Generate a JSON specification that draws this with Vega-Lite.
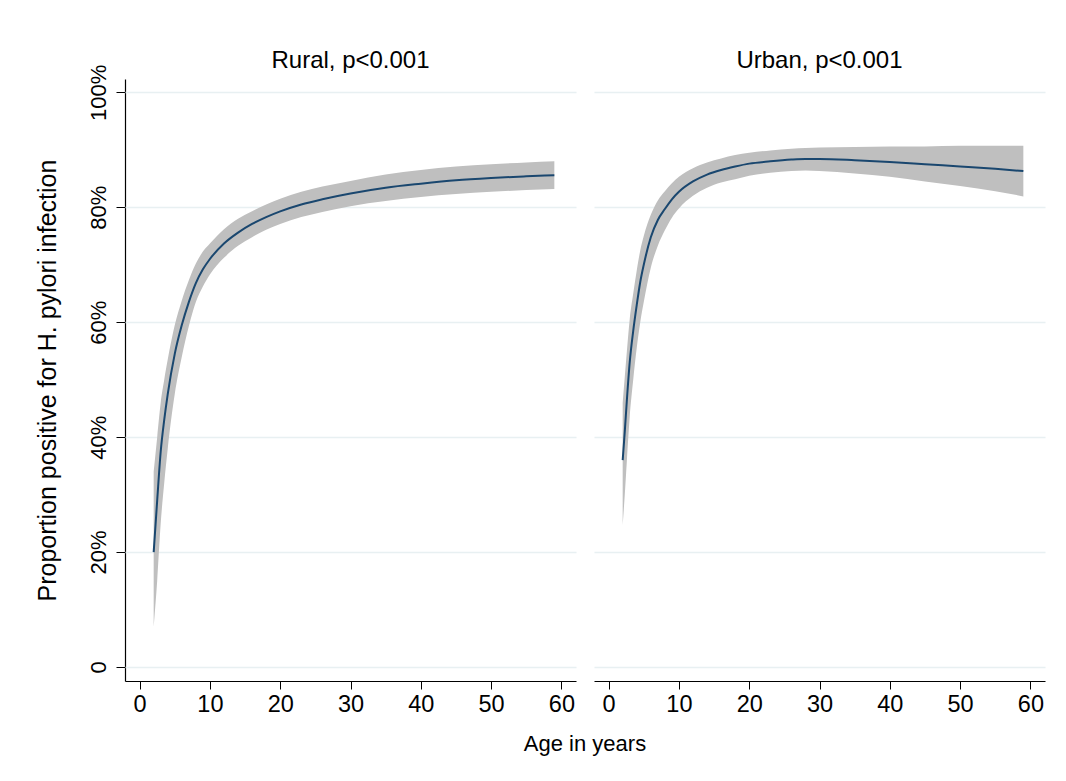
{
  "$schema": "https://vega.github.io/schema/vega-lite/v6.json",
  "padding": {"left": 34, "top": 49, "right": 10, "bottom": 10},
  "background": "white",
  "config": {
    "font": "Liberation Sans",
    "view": {"stroke": null},
    "axis": {"labelFont": "Liberation Sans", "titleFont": "Liberation Sans", "labelColor": "#000", "titleColor": "#000", "domainColor": "#000", "tickColor": "#000", "gridColor": "#e8f0f2", "gridWidth": 1.5}
  },
  "data": {"values": [
    {"panel": "Rural, p<0.001", "age": 2, "est": 20.0, "lo": 7, "hi": 34},
    {"panel": "Rural, p<0.001", "age": 2.5, "est": 29, "lo": 15, "hi": 40},
    {"panel": "Rural, p<0.001", "age": 3, "est": 37.5, "lo": 25, "hi": 46},
    {"panel": "Rural, p<0.001", "age": 3.5, "est": 43, "lo": 32, "hi": 50},
    {"panel": "Rural, p<0.001", "age": 4, "est": 47.5, "lo": 38, "hi": 53.5},
    {"panel": "Rural, p<0.001", "age": 5, "est": 54.5, "lo": 47.5, "hi": 59.5},
    {"panel": "Rural, p<0.001", "age": 6, "est": 59.5, "lo": 54, "hi": 63.8},
    {"panel": "Rural, p<0.001", "age": 7, "est": 63.5, "lo": 59.3, "hi": 67.3},
    {"panel": "Rural, p<0.001", "age": 8, "est": 66.8, "lo": 63.5, "hi": 70.2},
    {"panel": "Rural, p<0.001", "age": 9, "est": 69.2, "lo": 66.2, "hi": 72.3},
    {"panel": "Rural, p<0.001", "age": 10, "est": 71.0, "lo": 68.3, "hi": 73.7},
    {"panel": "Rural, p<0.001", "age": 12, "est": 73.7, "lo": 71.2, "hi": 76.2},
    {"panel": "Rural, p<0.001", "age": 14, "est": 75.6, "lo": 73.3, "hi": 78.0},
    {"panel": "Rural, p<0.001", "age": 16, "est": 77.1, "lo": 74.8, "hi": 79.3},
    {"panel": "Rural, p<0.001", "age": 18, "est": 78.3, "lo": 76.1, "hi": 80.5},
    {"panel": "Rural, p<0.001", "age": 20, "est": 79.3, "lo": 77.1, "hi": 81.5},
    {"panel": "Rural, p<0.001", "age": 23, "est": 80.5, "lo": 78.3, "hi": 82.7},
    {"panel": "Rural, p<0.001", "age": 26, "est": 81.4, "lo": 79.2, "hi": 83.6},
    {"panel": "Rural, p<0.001", "age": 30, "est": 82.4, "lo": 80.2, "hi": 84.6},
    {"panel": "Rural, p<0.001", "age": 35, "est": 83.4, "lo": 81.1, "hi": 85.7},
    {"panel": "Rural, p<0.001", "age": 40, "est": 84.1, "lo": 81.8, "hi": 86.5},
    {"panel": "Rural, p<0.001", "age": 45, "est": 84.7, "lo": 82.3, "hi": 87.1},
    {"panel": "Rural, p<0.001", "age": 50, "est": 85.1, "lo": 82.7, "hi": 87.5},
    {"panel": "Rural, p<0.001", "age": 55, "est": 85.4, "lo": 83.0, "hi": 87.8},
    {"panel": "Rural, p<0.001", "age": 59, "est": 85.6, "lo": 83.2, "hi": 88.0},
    {"panel": "Urban, p<0.001", "age": 2, "est": 36, "lo": 24.7, "hi": 46},
    {"panel": "Urban, p<0.001", "age": 2.3, "est": 41, "lo": 30, "hi": 50.5},
    {"panel": "Urban, p<0.001", "age": 2.6, "est": 46.5, "lo": 36, "hi": 55},
    {"panel": "Urban, p<0.001", "age": 3, "est": 53, "lo": 43.5, "hi": 60.5},
    {"panel": "Urban, p<0.001", "age": 3.5, "est": 58.5, "lo": 50, "hi": 65},
    {"panel": "Urban, p<0.001", "age": 4, "est": 63, "lo": 55.5, "hi": 69},
    {"panel": "Urban, p<0.001", "age": 4.5, "est": 67, "lo": 60, "hi": 72.5},
    {"panel": "Urban, p<0.001", "age": 5, "est": 70, "lo": 63.5, "hi": 75},
    {"panel": "Urban, p<0.001", "age": 6, "est": 74.8, "lo": 69.5, "hi": 78.7},
    {"panel": "Urban, p<0.001", "age": 7, "est": 77.8, "lo": 73.3, "hi": 81.2},
    {"panel": "Urban, p<0.001", "age": 8, "est": 79.7, "lo": 76, "hi": 82.8},
    {"panel": "Urban, p<0.001", "age": 9, "est": 81.4, "lo": 78.2, "hi": 84.2},
    {"panel": "Urban, p<0.001", "age": 10, "est": 82.7, "lo": 79.8, "hi": 85.3},
    {"panel": "Urban, p<0.001", "age": 12, "est": 84.5, "lo": 82.0, "hi": 86.8},
    {"panel": "Urban, p<0.001", "age": 14, "est": 85.7, "lo": 83.4, "hi": 87.8},
    {"panel": "Urban, p<0.001", "age": 16, "est": 86.5, "lo": 84.3, "hi": 88.5},
    {"panel": "Urban, p<0.001", "age": 18, "est": 87.1, "lo": 84.9, "hi": 89.1},
    {"panel": "Urban, p<0.001", "age": 20, "est": 87.6, "lo": 85.5, "hi": 89.5},
    {"panel": "Urban, p<0.001", "age": 23, "est": 88.0, "lo": 86.0, "hi": 89.9},
    {"panel": "Urban, p<0.001", "age": 26, "est": 88.3, "lo": 86.3, "hi": 90.2},
    {"panel": "Urban, p<0.001", "age": 28, "est": 88.4, "lo": 86.4, "hi": 90.3},
    {"panel": "Urban, p<0.001", "age": 30, "est": 88.4, "lo": 86.3, "hi": 90.4},
    {"panel": "Urban, p<0.001", "age": 35, "est": 88.2, "lo": 85.9, "hi": 90.5},
    {"panel": "Urban, p<0.001", "age": 40, "est": 87.9, "lo": 85.3, "hi": 90.6},
    {"panel": "Urban, p<0.001", "age": 45, "est": 87.5, "lo": 84.5, "hi": 90.6},
    {"panel": "Urban, p<0.001", "age": 50, "est": 87.1, "lo": 83.7, "hi": 90.7},
    {"panel": "Urban, p<0.001", "age": 55, "est": 86.7, "lo": 82.8, "hi": 90.7},
    {"panel": "Urban, p<0.001", "age": 59, "est": 86.3, "lo": 81.9, "hi": 90.7}
  ]},
  "facet": {
    "column": {
      "field": "panel", "type": "nominal", "sort": ["Rural, p<0.001", "Urban, p<0.001"],
      "header": {
        "title": "Age in years", "titleOrient": "bottom", "labelOrient": "top",
        "titleFont": "Liberation Sans", "titleFontSize": 22, "titleFontWeight": "normal", "titleColor": "#000", "titlePadding": 8,
        "labelFont": "Liberation Sans", "labelFontSize": 24, "labelColor": "#000", "labelPadding": 6
      }
    }
  },
  "spacing": 18,
  "spec": {
    "width": 451,
    "height": 602,
    "encoding": {
      "x": {"field": "age", "type": "quantitative", "scale": {"domain": [-2.08, 62.08], "nice": false, "zero": false},
        "axis": {"title": null, "values": [0, 10, 20, 30, 40, 50, 60], "grid": false, "labelFontSize": 23.5, "tickSize": 8, "labelPadding": 3.5, "domainWidth": 1.2}}
    },
    "layer": [
      {
        "mark": {"type": "area", "color": "#bfbfbf", "opacity": 1, "interpolate": "monotone"},
        "encoding": {
          "y": {"field": "lo", "type": "quantitative", "scale": {"domain": [-2.44, 102.33], "nice": false, "zero": false},
            "axis": {"title": "Proportion positive for H. pylori infection", "titleFontSize": 25, "titleFontWeight": "normal", "titlePadding": 27,
              "values": [0, 20, 40, 60, 80, 100], "labelExpr": "datum.value == 0 ? '0' : datum.value + '%'",
              "labelAngle": -90, "labelAlign": "center", "labelBaseline": "alphabetic", "labelFontSize": 22, "labelPadding": 11, "tickSize": 9, "domainWidth": 1.2}},
          "y2": {"field": "hi"}
        }
      },
      {
        "mark": {"type": "line", "color": "#1a476f", "strokeWidth": 2, "interpolate": "monotone"},
        "encoding": {"y": {"field": "est", "type": "quantitative"}}
      }
    ]
  }
}
